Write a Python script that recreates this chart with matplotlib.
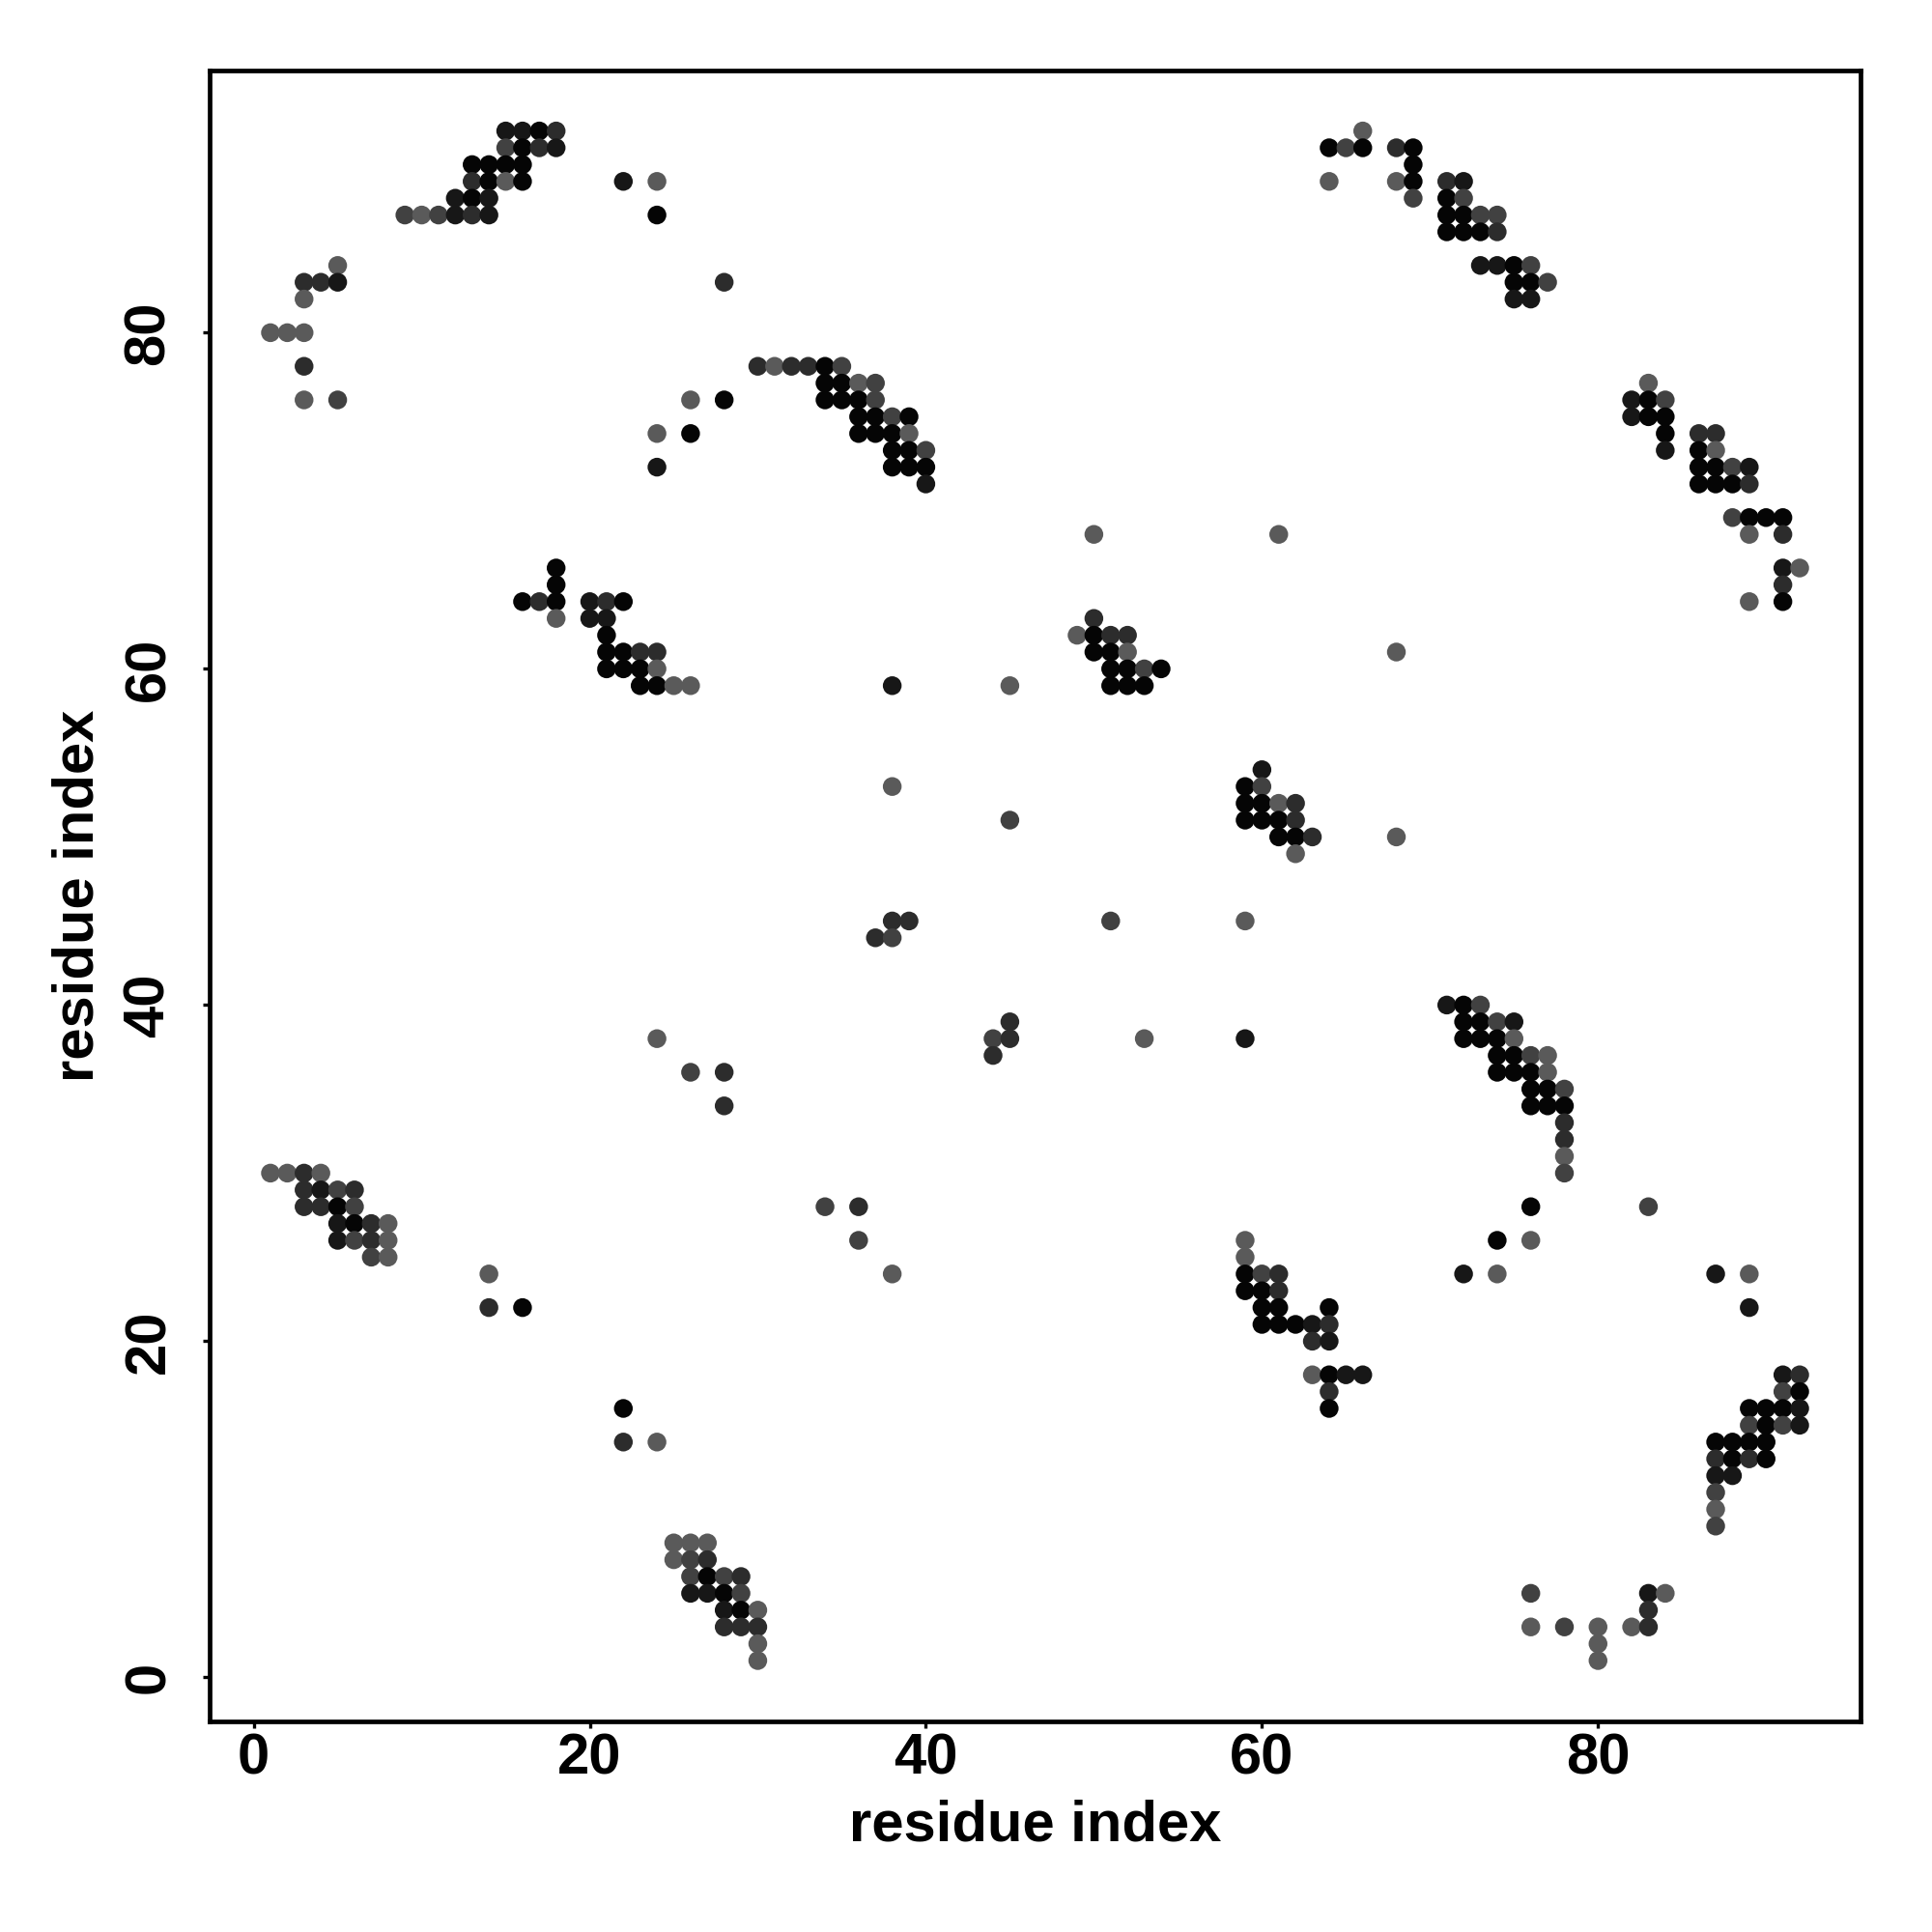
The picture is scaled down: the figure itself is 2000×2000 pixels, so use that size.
import matplotlib
matplotlib.use("Agg")
import matplotlib.pyplot as plt
import numpy as np

# contact map: (residue i, residue j, shade level 0=darkest .. 4=lightest)
top_left = [
    (15, 92, 1), (16, 92, 1), (17, 92, 0), (18, 92, 2),
    (15, 91, 3), (16, 91, 0), (17, 91, 2), (18, 91, 1),
    (13, 90, 0), (14, 90, 0), (15, 90, 0), (16, 90, 0),
    (13, 89, 2), (14, 89, 0), (15, 89, 4), (16, 89, 0),
    (12, 88, 1), (13, 88, 0), (14, 88, 1),
    (9, 87, 3), (10, 87, 4), (11, 87, 3), (12, 87, 1), (13, 87, 2), (14, 87, 1),
    (22, 89, 1), (24, 89, 4), (24, 87, 0),
    (5, 84, 4), (3, 83, 2), (4, 83, 2), (5, 83, 1), (3, 82, 4),
    (1, 80, 4), (2, 80, 4), (3, 80, 4), (3, 78, 2), (3, 76, 4), (5, 76, 3),
    (28, 83, 2), (26, 76, 4), (28, 76, 0), (24, 74, 4), (26, 74, 0), (24, 72, 1),
    (18, 66, 0), (18, 65, 0),
    (16, 64, 0), (17, 64, 2), (18, 64, 0), (20, 64, 1), (21, 64, 2), (22, 64, 0),
    (18, 63, 4), (20, 63, 1), (21, 63, 1),
]

top_mid = [
    (30, 78, 2), (31, 78, 4), (32, 78, 2), (33, 78, 2), (34, 78, 0), (35, 78, 3),
    (34, 77, 0), (35, 77, 0), (36, 77, 4), (37, 77, 3),
    (34, 76, 0), (35, 76, 0), (36, 76, 0), (37, 76, 3),
    (36, 75, 0), (37, 75, 0), (38, 75, 3), (39, 75, 0),
    (36, 74, 0), (37, 74, 0), (38, 74, 0), (39, 74, 4),
    (38, 73, 0), (39, 73, 0), (40, 73, 3),
    (38, 72, 0), (39, 72, 0), (40, 72, 0), (40, 71, 1),
    (50, 68, 4), (61, 68, 4),
]

top_right = [
    (66, 92, 4),
    (64, 91, 0), (65, 91, 3), (66, 91, 0), (68, 91, 2), (69, 91, 0),
    (69, 90, 0), (64, 89, 4), (68, 89, 4), (69, 89, 0), (69, 88, 3),
    (71, 89, 2), (72, 89, 1), (71, 88, 0), (72, 88, 3),
    (71, 87, 0), (72, 87, 0), (73, 87, 3), (74, 87, 3),
    (71, 86, 0), (72, 86, 0), (73, 86, 0), (74, 86, 2),
    (73, 84, 1), (74, 84, 1), (75, 84, 0), (76, 84, 3),
    (75, 83, 0), (76, 83, 0), (77, 83, 3), (75, 82, 1), (76, 82, 1),
    (83, 77, 4), (82, 76, 1), (83, 76, 0), (84, 76, 3),
    (82, 75, 1), (83, 75, 0), (84, 75, 0), (84, 74, 0), (84, 73, 1),
    (86, 74, 2), (87, 74, 2), (86, 73, 0), (87, 73, 4),
    (86, 72, 0), (87, 72, 0), (88, 72, 3), (89, 72, 1),
    (86, 71, 0), (87, 71, 0), (88, 71, 0), (89, 71, 2),
    (88, 69, 3), (89, 69, 0), (90, 69, 0), (91, 69, 0),
    (89, 68, 4), (91, 68, 2), (91, 66, 1), (92, 66, 4), (91, 65, 2),
    (89, 64, 4), (91, 64, 0),
]

mid_left = [
    (21, 62, 0),
    (21, 61, 0), (22, 61, 0), (23, 61, 2), (24, 61, 2),
    (21, 60, 0), (22, 60, 0), (23, 60, 0), (24, 60, 4),
    (23, 59, 0), (24, 59, 0), (25, 59, 4), (26, 59, 4),
    (24, 38, 4), (26, 36, 3), (28, 36, 2), (28, 34, 2),
]

mid_mid = [
    (50, 63, 2), (49, 62, 4), (50, 62, 0), (51, 62, 2), (52, 62, 2),
    (50, 61, 0), (51, 61, 0), (52, 61, 4),
    (51, 60, 0), (52, 60, 0), (53, 60, 3), (54, 60, 0),
    (51, 59, 0), (52, 59, 0), (53, 59, 0),
    (38, 59, 1), (45, 59, 4), (38, 53, 4), (45, 51, 3),
    (60, 54, 1), (59, 53, 0), (60, 53, 3),
    (59, 52, 0), (60, 52, 0), (61, 52, 4), (62, 52, 2),
    (59, 51, 0), (60, 51, 0), (61, 51, 0), (62, 51, 2),
    (61, 50, 0), (62, 50, 0), (63, 50, 2), (62, 49, 4),
    (38, 45, 2), (39, 45, 2), (51, 45, 3), (59, 45, 4),
    (37, 44, 2), (38, 44, 3), (45, 39, 2),
    (44, 38, 3), (45, 38, 2), (53, 38, 4), (59, 38, 1), (44, 37, 2),
]

mid_right = [
    (68, 61, 4), (68, 50, 4),
    (71, 40, 1), (72, 40, 0), (73, 40, 3),
    (72, 39, 0), (73, 39, 0), (74, 39, 3), (75, 39, 1),
    (72, 38, 0), (73, 38, 0), (74, 38, 0), (75, 38, 4),
    (74, 37, 0), (75, 37, 0), (76, 37, 3), (77, 37, 4),
    (74, 36, 0), (75, 36, 0), (76, 36, 0), (77, 36, 4),
    (76, 35, 0), (77, 35, 0), (78, 35, 3),
    (76, 34, 0), (77, 34, 0), (78, 34, 0),
    (78, 33, 2), (78, 32, 2), (78, 31, 4), (78, 30, 3),
]

bottom_left = [
    (1, 30, 4), (2, 30, 4), (3, 30, 2), (4, 30, 4),
    (3, 29, 2), (4, 29, 1), (5, 29, 3), (6, 29, 2),
    (3, 28, 2), (4, 28, 2), (5, 28, 0), (6, 28, 3),
    (5, 27, 1), (6, 27, 0), (7, 27, 2), (8, 27, 4),
    (5, 26, 1), (6, 26, 3), (7, 26, 2), (8, 26, 4),
    (7, 25, 3), (8, 25, 4),
    (14, 24, 4), (14, 22, 2), (16, 22, 0),
    (22, 16, 0), (22, 14, 2), (24, 14, 4),
    (25, 8, 4), (26, 8, 4), (27, 8, 4),
    (25, 7, 4), (26, 7, 3), (27, 7, 2),
    (26, 6, 3), (27, 6, 0), (28, 6, 3), (29, 6, 2),
    (26, 5, 1), (27, 5, 1), (28, 5, 0), (29, 5, 3),
    (28, 4, 1), (29, 4, 0), (30, 4, 4),
    (28, 3, 2), (29, 3, 2), (30, 3, 2), (30, 2, 4), (30, 1, 4),
]

bottom_mid = [
    (34, 28, 3), (36, 28, 2), (36, 26, 3), (38, 24, 4),
    (59, 26, 4), (59, 25, 4),
    (59, 24, 0), (60, 24, 3), (61, 24, 2),
    (59, 23, 0), (60, 23, 0), (61, 23, 2),
    (60, 22, 0), (61, 22, 0),
    (60, 21, 0), (61, 21, 0), (62, 21, 0), (63, 21, 1),
    (63, 20, 2), (63, 18, 4),
]

bottom_right = [
    (76, 28, 0), (83, 28, 3), (74, 26, 0), (76, 26, 4),
    (72, 24, 1), (74, 24, 4), (87, 24, 1), (89, 24, 4), (89, 22, 1),
    (64, 22, 0), (64, 21, 2), (64, 20, 1),
    (64, 18, 0), (65, 18, 1), (66, 18, 1), (64, 17, 2), (64, 16, 0),
    (91, 18, 1), (92, 18, 2), (91, 17, 3), (92, 17, 0),
    (89, 16, 0), (90, 16, 0), (91, 16, 0), (92, 16, 1),
    (89, 15, 3), (90, 15, 0), (91, 15, 3), (92, 15, 1),
    (87, 14, 0), (88, 14, 0), (89, 14, 0), (90, 14, 0),
    (87, 13, 2), (88, 13, 0), (89, 13, 2), (90, 13, 0),
    (87, 12, 1), (88, 12, 1), (87, 11, 3), (87, 10, 4), (87, 9, 3),
    (76, 5, 3), (83, 5, 1), (84, 5, 4), (83, 4, 2),
    (76, 3, 4), (78, 3, 3), (80, 3, 4), (82, 3, 4), (83, 3, 2),
    (80, 2, 4), (80, 1, 4),
]

shade_colors = ['#050505', '#171717', '#2c2c2c', '#414141', '#5a5a5a']
ticks = [0, 20, 40, 60, 80]

contacts = (top_left + top_mid + top_right + mid_left + mid_mid + mid_right
            + bottom_left + bottom_mid + bottom_right)
res_i = np.array([c[0] for c in contacts])
res_j = np.array([c[1] for c in contacts])
level = [c[2] for c in contacts]
cols = [shade_colors[l] for l in level]

plt.rcParams['font.family'] = ['Liberation Sans', 'DejaVu Sans']
plt.rcParams['font.weight'] = 'bold'

fig = plt.figure(figsize=(10, 10), dpi=200)
ax = fig.add_axes([0.1085, 0.109, 0.8545, 0.8547])

ax.scatter(res_i, res_j, s=49, c=cols, linewidths=0)

ax.set_xlim(-2.62, 95.62)
ax.set_ylim(-2.62, 95.62)
ax.set_xticks(ticks)
ax.set_yticks(ticks)

for sp in ax.spines.values():
    sp.set_linewidth(1.7)
ax.tick_params(length=2.6, width=1.2, labelsize=21.5)
ax.tick_params(axis='x', pad=1.5)
ax.tick_params(axis='y', pad=10, labelrotation=90)
for lab in ax.get_yticklabels():
    lab.set_va('center')

ax.set_xlabel('residue index', fontsize=21.5, fontweight='bold', labelpad=5)
ax.set_ylabel('residue index', fontsize=21.5, fontweight='bold', labelpad=6.5)

fig.savefig('out.png', dpi=200, facecolor='white')
